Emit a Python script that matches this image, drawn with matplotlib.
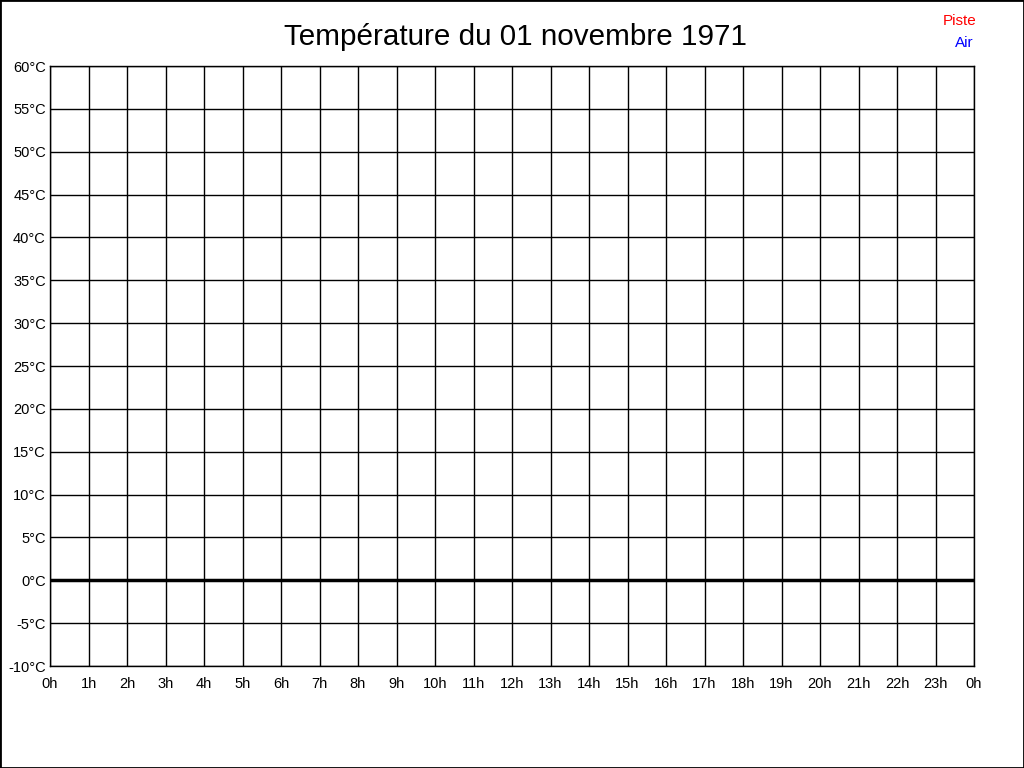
import matplotlib.pyplot as plt
from matplotlib.patches import Rectangle

plt.rcParams['font.family'] = ['Liberation Sans', 'DejaVu Sans']

# données
title = "Température du 01 novembre 1971"
hours = list(range(0, 25))
hour_labels = [f"{h % 24}h" for h in hours]
temp_ticks = list(range(-10, 65, 5))
temp_labels = [f"{t}°C" for t in temp_ticks]
piste_hours = []
piste_temp = []
air_hours = []
air_temp = []

fig = plt.figure(figsize=(10.24, 7.68), dpi=100)
ax = fig.add_axes([50 / 1024, 1 - 666 / 768, 924 / 1024, 600 / 768])

ax.plot(piste_hours, piste_temp, color='red', lw=1)
ax.plot(air_hours, air_temp, color='blue', lw=1)

ax.set_xlim(hours[0], hours[-1])
ax.set_ylim(temp_ticks[0], temp_ticks[-1])
ax.set_xticks(hours)
ax.set_xticklabels(hour_labels)
ax.set_yticks(temp_ticks)
ax.set_yticklabels(temp_labels)
ax.tick_params(length=0, labelsize=10.5)
ax.tick_params(axis='x', pad=8)
ax.tick_params(axis='y', pad=3)
ax.grid(True, color='black', lw=1)
ax.axhline(0, color='black', lw=2.5)
for s in ax.spines.values():
    s.set_linewidth(1)

fig.text(515 / 1024, 1 - 37 / 768, title, ha='center', va='center', fontsize=21.3)
fig.text(976 / 1024, 1 - 21 / 768, "Piste", color='red', ha='right', va='center', fontsize=11)
fig.text(974 / 1024, 1 - 43 / 768, "Air", color='blue', ha='right', va='center', fontsize=11)

# cadre autour de l'image
fig.patches.append(Rectangle((0, 0), 1, 1, transform=fig.transFigure, fill=False,
                             edgecolor='black', lw=2))

fig.savefig("out.png", dpi=100)
